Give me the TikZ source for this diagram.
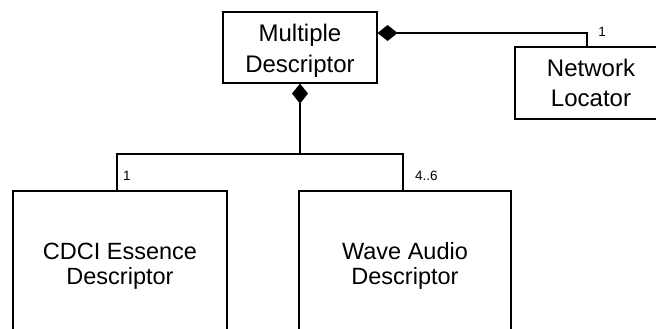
\documentclass[tikz,border=0pt]{standalone}
\usepackage{fontspec}
\setmainfont{Liberation Sans}
\usetikzlibrary{arrows.meta}
\tikzset{
  cls/.style={draw=black, line width=1.2pt, fill=white, inner sep=0pt, align=center},
  topfont/.style={font=\fontsize{24}{31}\selectfont},
  botfont/.style={font=\fontsize{23.5}{25}\selectfont},
  conn/.style={draw=black, line width=1.2pt},
  comp/.style={conn, {Diamond[length=20pt,width=16pt,fill=black]}-},
  mult/.style={font=\fontsize{13.5}{15}\selectfont, inner sep=0pt}
}
\begin{document}
\begin{tikzpicture}[x=1pt,y=-1pt]
\useasboundingbox (0,0) rectangle (656,329);
\clip (0,0) rectangle (656,329);
\node[cls, topfont, minimum width=154pt, minimum height=71pt] (md) at (300,47.5) {\rule{0pt}{24pt}Multiple\\Descriptor};
\node[cls, topfont, font=\fontsize{24}{30}\selectfont, minimum width=152pt, minimum height=72pt] (nl) at (591,83) {Network\\Locator};
\node[cls, botfont, minimum width=214pt, minimum height=150pt] (cdci) at (120,266) {CDCI Essence\\Descriptor};
\node[cls, botfont, minimum width=212pt, minimum height=150pt] (wave) at (405,266) {Wave Audio\\Descriptor};
\draw[comp] ([yshift=14.5pt]md.east) -| ([xshift=-4pt]nl.north);
\draw[comp] (md.south) -- (md.south |- 0,154) coordinate (j);
\draw[conn] (j) -| ([xshift=-3pt]cdci.north);
\draw[conn] (j) -| ([xshift=-2pt]wave.north);
\node[mult] (m1) at (602,32) {1};
\node[mult] (m2) at (127,176) {1};
\node[mult, anchor=west] (m3) at (415,176) {4..6};
\end{tikzpicture}
\end{document}
